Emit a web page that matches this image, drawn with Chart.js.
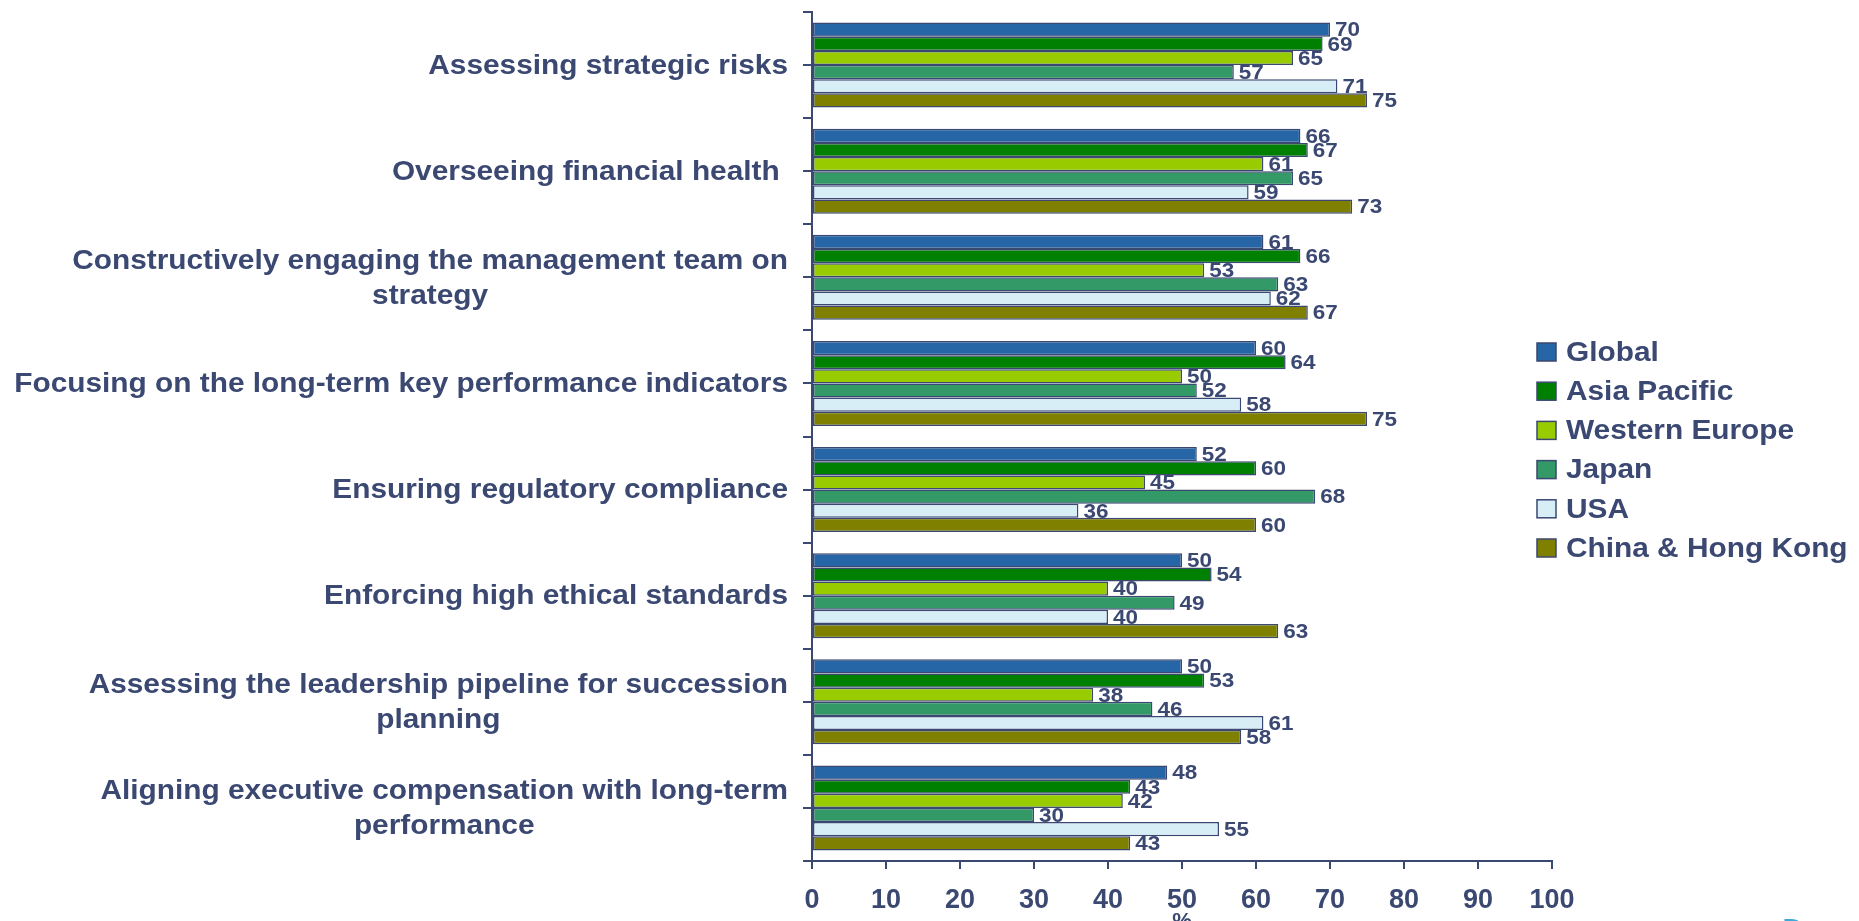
<!DOCTYPE html>
<html><head><meta charset="utf-8">
<script src="https://cdn.jsdelivr.net/npm/chart.js@4"></script>
<style>html,body{margin:0;padding:0;background:#fff;overflow:hidden}#wrap{width:1859px;height:921px;position:relative}</style>
</head><body><div id="wrap"><canvas id="c"></canvas></div>
<script>
const categories = [
  ['Assessing strategic risks'],
  ['Overseeing financial health '],
  ['Constructively engaging the management team on', 'strategy'],
  ['Focusing on the long-term key performance indicators'],
  ['Ensuring regulatory compliance'],
  ['Enforcing high ethical standards'],
  ['Assessing the leadership pipeline for succession', 'planning'],
  ['Aligning executive compensation with long-term', 'performance']
];
const seriesNames = ['Global', 'Asia Pacific', 'Western Europe', 'Japan', 'USA', 'China & Hong Kong'];
const globalVals        = [70, 66, 61, 60, 52, 50, 50, 48];
const asiaPacificVals   = [69, 67, 66, 64, 60, 54, 53, 43];
const westernEuropeVals = [65, 61, 53, 50, 45, 40, 38, 42];
const japanVals         = [57, 65, 63, 52, 68, 49, 46, 30];
const usaVals           = [71, 59, 62, 58, 36, 40, 61, 55];
const chinaHKVals       = [75, 73, 67, 75, 60, 63, 58, 43];
const seriesColors = ['#2666a6', '#008000', '#99cc00', '#339966', '#d8eef7', '#808000'];
const xTicks = [0, 10, 20, 30, 40, 50, 60, 70, 80, 90, 100];
const xTitle = '%';

const NAVY = '#3a4872';
const FONT = "'Liberation Sans', Arial, sans-serif";
const SX = 1.065; // horizontal stretch of the reference's text

const seriesData = [globalVals, asiaPacificVals, westernEuropeVals, japanVals, usaVals, chinaHKVals];

function stretchText(ctx, text, x, y, sx, align) {
  ctx.save();
  ctx.translate(x, y);
  ctx.scale(sx, 1);
  ctx.textAlign = align;
  ctx.fillText(text, 0, 0);
  ctx.restore();
}

const overlay = {
  id: 'overlay',
  afterDatasetsDraw(chart) {
    const ctx = chart.ctx;
    ctx.save();
    ctx.font = 'bold 21px ' + FONT;
    ctx.fillStyle = NAVY;
    ctx.textBaseline = 'middle';
    chart.data.datasets.forEach((ds, di) => {
      const meta = chart.getDatasetMeta(di);
      meta.data.forEach((bar, i) => {
        stretchText(ctx, String(ds.data[i]), bar.x + 5, bar.y + 1, 1.07, 'left');
      });
    });
    ctx.restore();
  },
  afterDraw(chart) {
    const ctx = chart.ctx;
    const ys = chart.scales.y;
    const xs = chart.scales.x;
    const left = chart.chartArea.left;
    ctx.save();
    // extra tick marks at category centres
    ctx.strokeStyle = NAVY;
    ctx.lineWidth = 2;
    chart.data.labels.forEach((_, i) => {
      const cy = Math.round(ys.getPixelForValue(i));
      ctx.beginPath();
      ctx.moveTo(left - 9, cy);
      ctx.lineTo(left, cy);
      ctx.stroke();
    });
    // category labels: right-aligned blocks, lines centred within block
    ctx.font = 'bold 28px ' + FONT;
    ctx.fillStyle = NAVY;
    ctx.textBaseline = 'middle';
    const rightEdge = left - 24;
    const lh = 35;
    chart.data.labels.forEach((lines, i) => {
      const cy = ys.getPixelForValue(i);
      const w = Math.max(...lines.map(l => ctx.measureText(l).width)) * SX;
      const cx = rightEdge - w / 2;
      const y0 = cy - (lines.length - 1) * lh / 2;
      lines.forEach((l, k) => stretchText(ctx, l, cx, y0 + k * lh + 1, SX, 'center'));
    });
    // legend
    const lx = chart.chartArea.right - 15;
    const ly0 = 352, step = 39.2;
    chart.data.datasets.forEach((ds, di) => {
      const y = ly0 + di * step;
      ctx.fillStyle = ds.backgroundColor;
      ctx.fillRect(lx, y - 9, 19, 18);
      ctx.strokeStyle = NAVY;
      ctx.lineWidth = 1.5;
      ctx.strokeRect(lx, y - 9, 19, 18);
      ctx.fillStyle = NAVY;
      ctx.font = 'bold 28px ' + FONT;
      stretchText(ctx, ds.label, lx + 29, y + 1, SX, 'left');
    });
    // axis title (cut off at bottom)
    ctx.font = 'bold 22px ' + FONT;
    ctx.textBaseline = 'top';
    ctx.fillStyle = NAVY;
    stretchText(ctx, xTitle, xs.getPixelForValue(50), chart.chartArea.bottom + 50, 1, 'center');
    // partially visible logo letter
    ctx.font = '30px ' + FONT;
    ctx.fillStyle = '#3fa9dd';
    ctx.textBaseline = 'alphabetic';
    stretchText(ctx, 'D', 1782, 939, 1, 'left');
    ctx.restore();
  }
};

new Chart(document.getElementById('c'), {
  type: 'bar',
  data: {
    labels: categories,
    datasets: seriesNames.map((name, i) => ({
      label: name,
      data: seriesData[i],
      backgroundColor: seriesColors[i],
      borderColor: NAVY,
      borderWidth: 1.5,
      borderSkipped: false,
      categoryPercentage: 0.8,
      barPercentage: 1.0
    }))
  },
  options: {
    indexAxis: 'y',
    responsive: true,
    maintainAspectRatio: false,
    animation: false,
    layout: { padding: { top: 12, right: 307, bottom: 0, left: 0 } },
    plugins: { legend: { display: false }, tooltip: { enabled: false } },
    scales: {
      x: {
        min: 0, max: 100,
        afterBuildTicks: (s) => { s.ticks = xTicks.map(v => ({ value: v })); },
        afterFit: (s) => { s.height = 60; },
        ticks: { color: NAVY, font: { family: FONT, size: 27, weight: 'bold' }, padding: 15, maxRotation: 0, autoSkip: false },
        grid: { drawOnChartArea: false, tickLength: 8, color: NAVY, lineWidth: 2 },
        border: { color: NAVY, width: 2 }
      },
      y: {
        afterFit: (s) => { s.width = 812; },
        ticks: { display: false },
        grid: { drawOnChartArea: false, tickLength: 9, color: NAVY, lineWidth: 2, offset: true },
        border: { color: NAVY, width: 2 }
      }
    }
  },
  plugins: [overlay]
});
</script>
</body></html>
